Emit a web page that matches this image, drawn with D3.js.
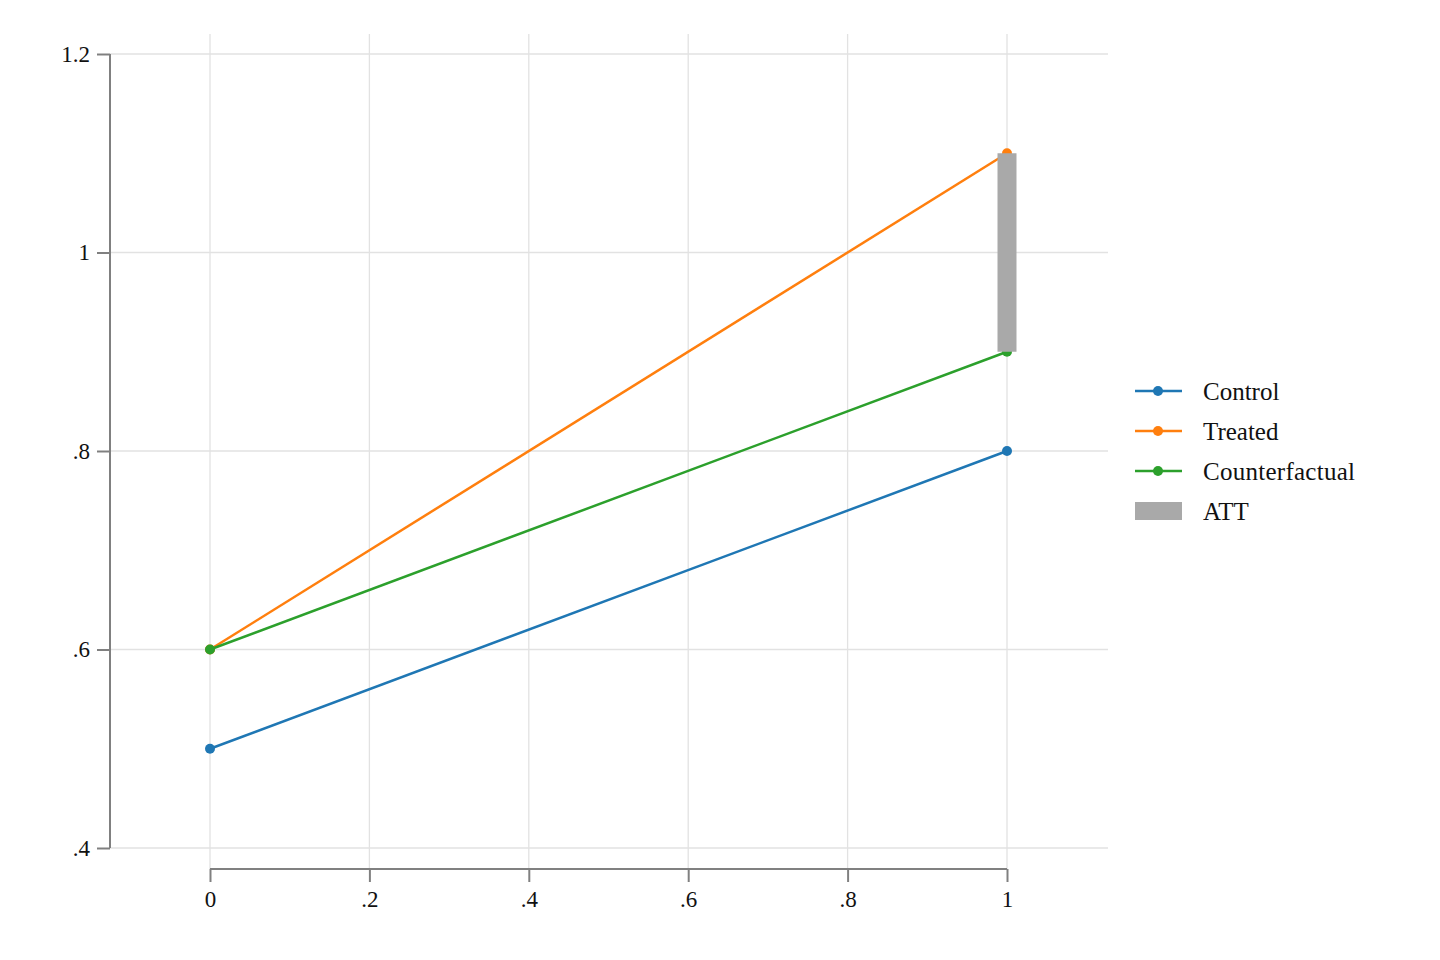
<!DOCTYPE html>
<html><head><meta charset="utf-8">
<script src="https://cdn.jsdelivr.net/npm/d3@7"></script>
<style>body{margin:0;background:#fff}svg{display:block}text{font-family:"Liberation Serif",serif;fill:#111}</style>
</head><body>
<script>
const periods = [0, 1];
const controlVals = [0.5, 0.8];
const treatedVals = [0.6, 1.1];
const counterVals = [0.6, 0.9];
const attRange = [0.9, 1.1];
const xTicks = [0, 0.2, 0.4, 0.6, 0.8, 1];
const yTicks = [0.4, 0.6, 0.8, 1, 1.2];
const seriesNames = ["Control", "Treated", "Counterfactual"];
const seriesColors = ["#1f77b4", "#ff7f0e", "#2ca02c"];
const attLabel = "ATT";

const fmt = v => v === 0 ? "0" : (v === 1 ? "1" : String(v).replace(/^0/, ""));

const W = 1440, H = 960;
const svg = d3.select("body").append("svg").attr("width", W).attr("height", H);

const x = d3.scaleLinear().domain([0, 1]).range([210, 1007]);
const y = d3.scaleLinear().domain([0.4, 1.2]).range([848, 54]);
const plot = {l: 110, r: 1108, t: 34, b: 869};

// gridlines
const g = svg.append("g");
g.selectAll(".hg").data(yTicks).enter().append("line")
  .attr("x1", plot.l).attr("x2", plot.r)
  .attr("y1", d => y(d)).attr("y2", d => y(d))
  .attr("stroke", "#e2e2e2").attr("stroke-width", 1.3);
g.selectAll(".vg").data(xTicks).enter().append("line")
  .attr("y1", plot.t).attr("y2", plot.b)
  .attr("x1", d => x(d)).attr("x2", d => x(d))
  .attr("stroke", "#e2e2e2").attr("stroke-width", 1.3);

// axes
const yAxis = d3.axisLeft(y).tickValues(yTicks).tickFormat(fmt).tickSize(13).tickPadding(7);
const ya = svg.append("g").attr("transform", `translate(${plot.l},0)`).call(yAxis);
const xAxis = d3.axisBottom(x).tickValues(xTicks).tickFormat(fmt).tickSize(13).tickPadding(9);
const xa = svg.append("g").attr("transform", `translate(0,${plot.b})`).call(xAxis);
[ya, xa].forEach(a => {
  a.select(".domain").attr("stroke", "#808080").attr("stroke-width", 2);
  a.selectAll(".tick line").attr("stroke", "#808080").attr("stroke-width", 2);
  a.selectAll(".tick text").style("font-family", "Liberation Serif, serif").style("font-size", "23px").attr("fill", "#111");
});
ya.select(".domain").attr("d", `M0,${y(1.2)}V${y(0.4)}`);
xa.select(".domain").attr("d", `M${x(0)},0H${x(1)}`);

// lines
const allSeries = [controlVals, treatedVals, counterVals];
const line = d3.line().x((d, i) => x(periods[i])).y(d => y(d));
allSeries.forEach((vals, k) => {
  svg.append("path").attr("d", line(vals)).attr("fill", "none")
    .attr("stroke", seriesColors[k]).attr("stroke-width", 2.5);
  svg.selectAll(null).data(vals).enter().append("circle")
    .attr("cx", (d, i) => x(periods[i])).attr("cy", d => y(d)).attr("r", 5)
    .attr("fill", seriesColors[k]);
});

// ATT bar
svg.append("rect").attr("x", x(1) - 9.5).attr("width", 19)
  .attr("y", y(attRange[1])).attr("height", y(attRange[0]) - y(attRange[1]))
  .attr("fill", "#a9a9a9");

// legend
const lg = svg.append("g");
seriesNames.forEach((n, k) => {
  const yy = 391 + k * 40;
  lg.append("line").attr("x1", 1135).attr("x2", 1182).attr("y1", yy).attr("y2", yy)
    .attr("stroke", seriesColors[k]).attr("stroke-width", 2.5);
  lg.append("circle").attr("cx", 1158).attr("cy", yy).attr("r", 5).attr("fill", seriesColors[k]);
  lg.append("text").attr("x", 1203).attr("y", yy + 9).style("font-size", "25px").attr("textLength", k === 2 ? 152 : null).text(n);
});
lg.append("rect").attr("x", 1135).attr("y", 502).attr("width", 47).attr("height", 18).attr("fill", "#a9a9a9");
lg.append("text").attr("x", 1203).attr("y", 520).style("font-size", "25px").text(attLabel);
</script>
</body></html>
